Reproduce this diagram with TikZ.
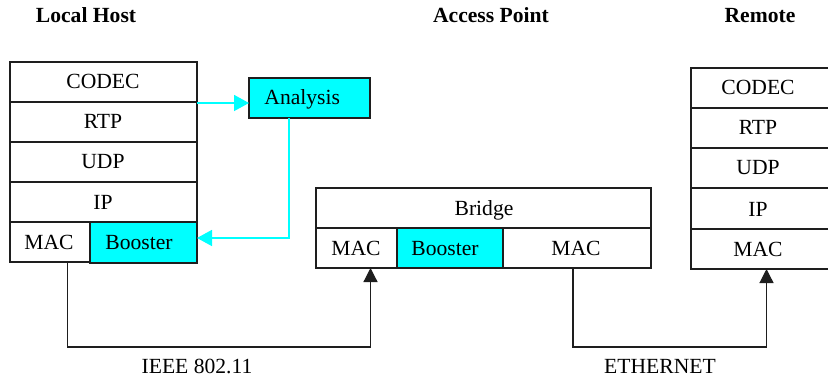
\documentclass[tikz,border=0pt]{standalone}
\usepackage{fontspec}
\setmainfont{Liberation Serif}
\usetikzlibrary{arrows.meta}
\definecolor{cy}{RGB}{0,255,255}
\definecolor{ln}{RGB}{30,30,30}
\begin{document}
\begin{tikzpicture}[x=0.5pt,y=-0.5pt,
  cell/.style={draw=ln,line width=0.6pt},
  hi/.style={cell,fill=cy},
  lbl/.style={font=\fontsize{10.8}{13}\selectfont,inner sep=0pt,anchor=base},
  ttl/.style={font=\fontsize{10.8}{13}\selectfont\bfseries,inner sep=0pt,anchor=base},
  link/.style={draw=ln,line width=0.6pt},
  cylink/.style={draw=cy,line width=0.8pt,-{Triangle[length=7.5pt,width=8pt]}},
  tip/.style={-{Triangle[length=7pt,width=7pt]}}]
\useasboundingbox (0,0) rectangle (828,379);
% titles
\node[ttl] (t1) at (86,23) {Local Host};
\node[ttl] (t2) at (491,23) {Access Point};
\node[ttl] (t3) at (760,23) {Remote};
% local host stack
\draw[cell] (10,62) rectangle (197,102);
\draw[cell] (10,102) rectangle (197,142);
\draw[cell] (10,142) rectangle (197,182);
\draw[cell] (10,182) rectangle (197,222);
\draw[cell] (10,222) rectangle (90,262);
\draw[hi] (90,222) rectangle (197,263);
\node[lbl] (lcodec) at (103,89) {CODEC};
\node[lbl] (lrtp) at (103,129) {RTP};
\node[lbl] (ludp) at (103,169) {UDP};
\node[lbl] (lip) at (103,209) {IP};
\node[lbl] (lmac) at (49,249) {MAC};
\node[lbl] (lboost) at (139,249) {Booster};
\coordinate (lrtpR) at (197,103);
\coordinate (lboostR) at (197,238);
\coordinate (lmacB) at (67.5,262);
% analysis
\draw[hi] (249,78) rectangle (370,118);
\node[lbl,anchor=base west] (anal) at (264,105) {Analysis};
\coordinate (analL) at (249,103);
\coordinate (analB) at (289,118);
\coordinate (analC) at (289,238);
% bridge
\draw[cell] (316,188) rectangle (651,228);
\draw[cell] (316,228) rectangle (397,268);
\draw[hi] (397,228) rectangle (503,268);
\draw[cell] (503,228) rectangle (651,268);
\node[lbl] (bridge) at (484,215) {Bridge};
\node[lbl] (bmac1) at (356,255) {MAC};
\node[lbl] (bboost) at (445,255) {Booster};
\node[lbl] (bmac2) at (576,255) {MAC};
\coordinate (bmac1B) at (370.5,268);
\coordinate (bmac2B) at (573,268);
% remote stack
\draw[cell] (691,68) rectangle (840,108);
\draw[cell] (691,108) rectangle (840,148);
\draw[cell] (691,148) rectangle (840,188);
\draw[cell] (691,188) rectangle (840,229);
\draw[cell] (691,229) rectangle (840,269);
\node[lbl] (rcodec) at (758,95) {CODEC};
\node[lbl] (rrtp) at (758,135) {RTP};
\node[lbl] (rudp) at (758,175) {UDP};
\node[lbl] (rip) at (758,216) {IP};
\node[lbl] (rmac) at (758,256) {MAC};
\coordinate (rmacB) at (766.5,269);
% cyan links
\draw[cylink] (lrtpR) -- (analL);
\draw[cylink] (analB) -- (analC) -- (lboostR);
% network links
\coordinate (c1) at (67.5,347);
\coordinate (c2) at (370.5,347);
\coordinate (c3) at (573,347);
\coordinate (c4) at (766.5,347);
\draw[link,tip] (lmacB) -- (c1) -- (c2) -- (bmac1B);
\draw[link,tip] (bmac2B) -- (c3) -- (c4) -- (rmacB);
\node[lbl] (ieee) at (197,373) {IEEE 802.11};
\node[lbl] (eth) at (660,373) {ETHERNET};
\end{tikzpicture}
\end{document}
